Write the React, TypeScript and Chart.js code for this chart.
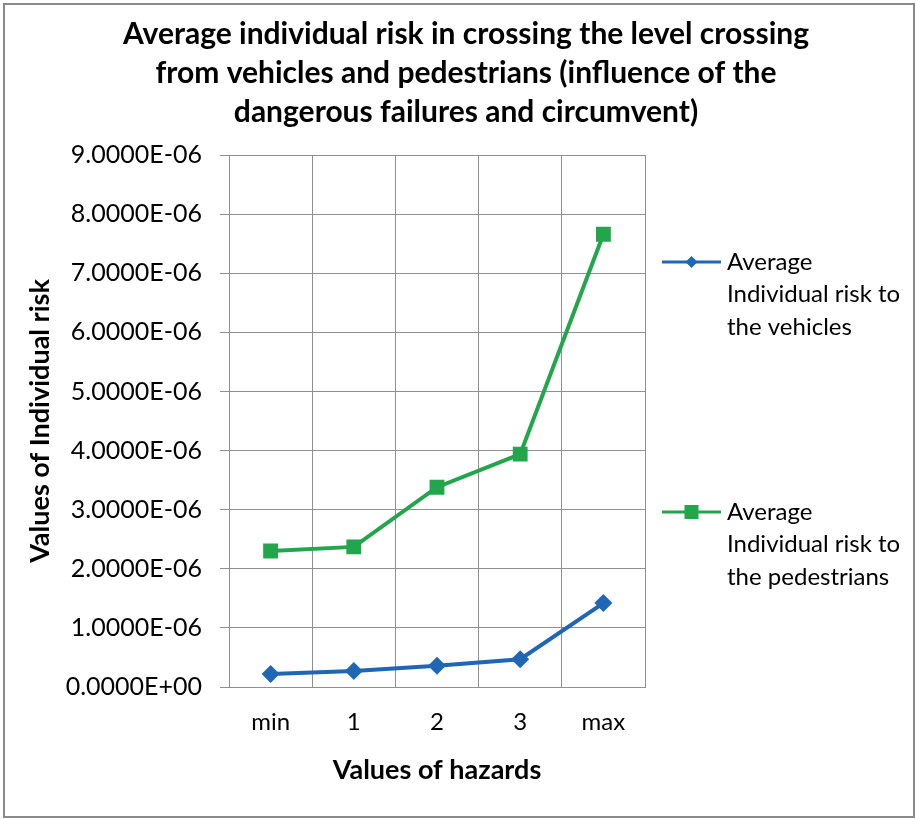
import React, { useEffect, useRef } from "react";
import { Chart, registerables } from "chart.js";

Chart.register(...registerables);

const categories = ["min", "1", "2", "3", "max"];
const vehicleRisk = [0.22e-6, 0.27e-6, 0.36e-6, 0.47e-6, 1.42e-6];
const pedestrianRisk = [2.3e-6, 2.37e-6, 3.38e-6, 3.94e-6, 7.66e-6];
const vehicleLegend = ["Average", "Individual risk to", "the vehicles"];
const pedestrianLegend = ["Average", "Individual risk to", "the pedestrians"];
const titleLines = [
  "Average individual risk in crossing the level crossing",
  "from vehicles and pedestrians (influence of the",
  "dangerous failures and circumvent)",
];
const xAxisTitle = "Values of hazards";
const yAxisTitle = "Values of Individual risk";
const yMin = 0;
const yMax = 9e-6;
const yStep = 1e-6;

const FONT = "Lato, 'Open Sans', sans-serif";
const BLUE = "#1f67b4";
const GREEN = "#23a64b";
const GRID = "#8f8f8f";
const TEXT = "#000000";

function formatSci(v: number): string {
  if (v === 0) return "0.0000E+00";
  const [mant, exp] = v.toExponential(4).split("e");
  const e = parseInt(exp, 10);
  const sign = e < 0 ? "-" : "+";
  const abs = Math.abs(e);
  return `${mant}E${sign}${abs < 10 ? "0" + abs : abs}`;
}

const framePlugin = {
  id: "frame",
  beforeDraw(chart: any) {
    const ctx = chart.ctx;
    ctx.save();
    ctx.fillStyle = "#ffffff";
    ctx.fillRect(0, 0, chart.width, chart.height);
    ctx.strokeStyle = "#8a8a8a";
    ctx.lineWidth = 2;
    ctx.strokeRect(4, 4, chart.width - 6, chart.height - 6);
    ctx.restore();
  },
};

const titlePlugin = {
  id: "customTitle",
  afterDraw(chart: any) {
    const ctx = chart.ctx;
    ctx.save();
    ctx.fillStyle = TEXT;
    ctx.font = `bold 30px ${FONT}`;
    ctx.textAlign = "center";
    ctx.textBaseline = "middle";
    const ys = [34, 73, 112];
    titleLines.forEach((t, i) => ctx.fillText(t, 466, ys[i]));
    ctx.restore();
  },
};

const legendPlugin = {
  id: "customLegend",
  afterDraw(chart: any) {
    const ctx = chart.ctx;
    const area = chart.chartArea;
    const items = [
      { lines: vehicleLegend, color: BLUE, shape: "diamond", y: 262 },
      { lines: pedestrianLegend, color: GREEN, shape: "square", y: 512 },
    ];
    const x0 = area.right + 17;
    const x1 = x0 + 59;
    const cx = (x0 + x1) / 2;
    ctx.save();
    items.forEach((it) => {
      ctx.strokeStyle = it.color;
      ctx.lineWidth = 3;
      ctx.beginPath();
      ctx.moveTo(x0, it.y);
      ctx.lineTo(x1, it.y);
      ctx.stroke();
      ctx.fillStyle = it.color;
      if (it.shape === "diamond") {
        const r = 6;
        ctx.beginPath();
        ctx.moveTo(cx - r, it.y);
        ctx.lineTo(cx, it.y - r);
        ctx.lineTo(cx + r, it.y);
        ctx.lineTo(cx, it.y + r);
        ctx.closePath();
        ctx.fill();
      } else {
        const s = 7;
        ctx.fillRect(cx - s, it.y - s, 2 * s, 2 * s);
      }
      ctx.fillStyle = TEXT;
      ctx.font = `24px ${FONT}`;
      ctx.textAlign = "left";
      ctx.textBaseline = "middle";
      it.lines.forEach((l, k) => ctx.fillText(l, x1 + 6, it.y + k * 32.5));
    });
    ctx.restore();
  },
};

export default function App() {
  const ref = useRef<HTMLCanvasElement>(null);

  useEffect(() => {
    if (!ref.current) return;
    const chart = new Chart(ref.current, {
      type: "line",
      data: {
        labels: categories,
        datasets: [
          {
            label: vehicleLegend.join(" "),
            data: vehicleRisk,
            borderColor: BLUE,
            backgroundColor: BLUE,
            borderWidth: 4,
            pointStyle: "rectRot",
            pointRadius: 9,
            pointBorderWidth: 0,
            tension: 0,
          },
          {
            label: pedestrianLegend.join(" "),
            data: pedestrianRisk,
            borderColor: GREEN,
            backgroundColor: GREEN,
            borderWidth: 4,
            pointStyle: "rect",
            pointRadius: 10.5,
            pointBorderWidth: 0,
            tension: 0,
          },
        ],
      },
      options: {
        responsive: false,
        animation: false,
        layout: { padding: { top: 155, right: 271, bottom: 0, left: 0 } },
        plugins: {
          legend: { display: false },
          title: { display: false },
          tooltip: { enabled: false },
        },
        scales: {
          x: {
            offset: true,
            grid: { offset: true, color: GRID, lineWidth: 1, drawTicks: false },
            border: { color: GRID },
            ticks: { padding: 21, color: TEXT, font: { family: FONT, size: 24 } },
            title: {
              display: true,
              text: xAxisTitle,
              color: TEXT,
              font: { family: FONT, size: 27, weight: "bold" },
              padding: { top: 0, bottom: 33 },
            },
            afterFit: (s: any) => {
              s.height = 132;
            },
          },
          y: {
            min: yMin,
            max: yMax,
            ticks: {
              stepSize: yStep,
              padding: 18,
              color: TEXT,
              font: { family: FONT, size: 25 },
              callback: (v: any) => formatSci(Number(v)),
            },
            grid: { color: GRID, lineWidth: 1, tickLength: 9 },
            border: { color: GRID },
            title: {
              display: true,
              text: yAxisTitle,
              color: TEXT,
              font: { family: FONT, size: 27, weight: "bold" },
              padding: { top: 24, bottom: 0 },
            },
            afterFit: (s: any) => {
              s.width = 229;
            },
          },
        },
      },
      plugins: [framePlugin, titlePlugin, legendPlugin],
    } as any);
    return () => chart.destroy();
  }, []);

  return (
    <div style={{ position: "absolute", left: 0, top: 0, width: 916, height: 819 }}>
      <canvas ref={ref} width={916} height={819} style={{ width: 916, height: 819, display: "block" }} />
    </div>
  );
}
